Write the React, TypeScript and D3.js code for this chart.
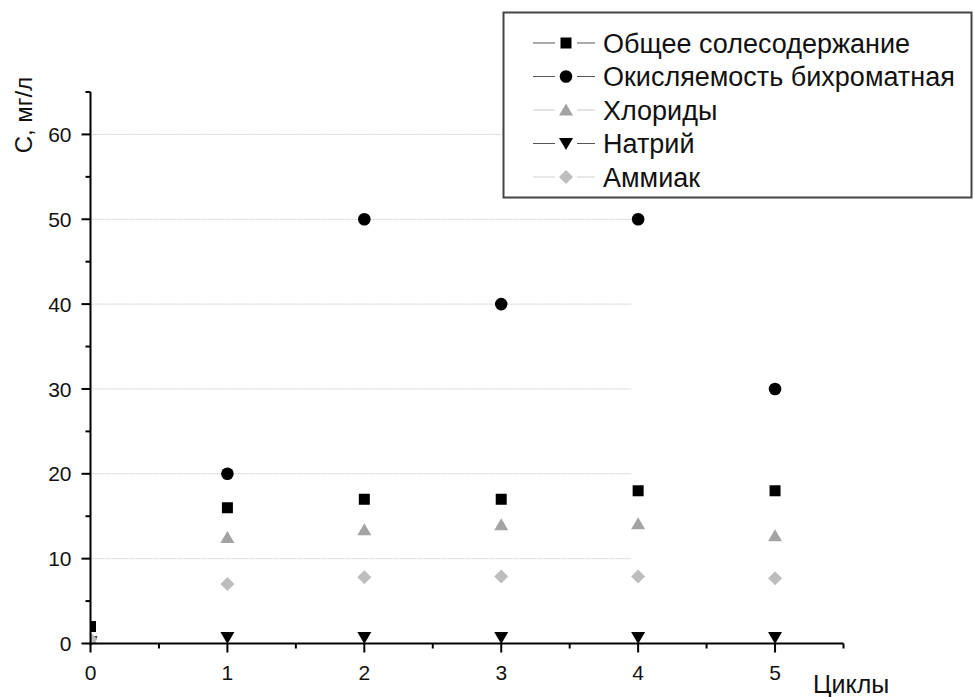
import React from "react";
import * as d3 from "d3";

const cycles = [0, 1, 2, 3, 4, 5];
const salinity = [2.0, 16, 17, 17, 18, 18];
const oxidability = [null, 20, 50, 40, 50, 30];
const chlorides = [0.5, 12.5, 13.4, 14, 14.1, 12.7];
const sodium = [0.2, 0.7, 0.7, 0.7, 0.7, 0.7];
const ammonia = [0.5, 7, 7.8, 7.9, 7.9, 7.7];

const seriesNames = [
  "Общее солесодержание",
  "Окисляемость бихроматная",
  "Хлориды",
  "Натрий",
  "Аммиак",
];
const yTicks = [0, 10, 20, 30, 40, 50, 60];
const xTicks = [0, 1, 2, 3, 4, 5];
const yTitle = "С, мг/л";
const xTitle = "Циклы";

const W = 974;
const H = 697;
const FONT = "'Liberation Sans', Arial, sans-serif";

type Shape = "square" | "circle" | "triangle" | "down" | "diamond";

const series: { name: string; values: (number | null)[]; shape: Shape; fill: string; line: string }[] = [
  { name: seriesNames[0], values: salinity, shape: "square", fill: "#000", line: "#555" },
  { name: seriesNames[1], values: oxidability, shape: "circle", fill: "#000", line: "#555" },
  { name: seriesNames[2], values: chlorides, shape: "triangle", fill: "#a3a3a3", line: "#c8c8c8" },
  { name: seriesNames[3], values: sodium, shape: "down", fill: "#000", line: "#555" },
  { name: seriesNames[4], values: ammonia, shape: "diamond", fill: "#bdbdbd", line: "#d0d0d0" },
];

function Marker({ shape, x, y, fill }: { shape: Shape; x: number; y: number; fill: string }) {
  if (shape === "square") return <rect x={x - 5.5} y={y - 5.5} width={11} height={11} fill={fill} />;
  if (shape === "circle") return <circle cx={x} cy={y} r={6.3} fill={fill} />;
  if (shape === "triangle")
    return <path d={`M${x},${y - 6.5}L${x + 7},${y + 5.5}L${x - 7},${y + 5.5}Z`} fill={fill} />;
  if (shape === "down")
    return <path d={`M${x - 7},${y - 5.5}L${x + 7},${y - 5.5}L${x},${y + 6.5}Z`} fill={fill} />;
  return <path d={`M${x},${y - 7}L${x + 7},${y}L${x},${y + 7}L${x - 7},${y}Z`} fill={fill} />;
}

export default function App() {
  const x = d3.scaleLinear().domain([0, 5.5]).range([90.5, 843.5]);
  const y = d3.scaleLinear().domain([0, 65]).range([643.5, 92]);
  const gridEnd = 3.95;
  const xMinor = d3.range(0.5, 5.51, 1);
  const yMinor = d3.range(5, 65.1, 10);

  return (
    <svg
      width={W}
      height={H}
      style={{ position: "absolute", left: 0, top: 0, background: "#fff" }}
      fontFamily={FONT}
    >
      <defs>
        <clipPath id="plot">
          <rect x={x(0)} y={0} width={W} height={y(0) + 1} />
        </clipPath>
      </defs>
      {yTicks
        .filter((t) => t > 0)
        .map((t) => (
          <line
            key={t}
            x1={x(0)}
            x2={x(gridEnd)}
            y1={y(t)}
            y2={y(t)}
            stroke="#cfcfcf"
            strokeWidth={1}
            strokeDasharray="2,1"
          />
        ))}
      <g clipPath="url(#plot)">
        {series.map((s) =>
          s.values.map((v, i) =>
            v == null ? null : (
              <Marker key={s.name + i} shape={s.shape} x={x(cycles[i])} y={y(v)} fill={s.fill} />
            )
          )
        )}
      </g>
      <line x1={x(0)} x2={x(0)} y1={y(65)} y2={y(0) + 1} stroke="#000" strokeWidth={2} />
      <line x1={x(0) - 1} x2={x(5.5)} y1={y(0)} y2={y(0)} stroke="#000" strokeWidth={2} />
      {yTicks.map((t) => (
        <g key={"yt" + t}>
          <line x1={x(0) - 9} x2={x(0)} y1={y(t)} y2={y(t)} stroke="#000" strokeWidth={2} />
          <text x={x(0) - 19} y={y(t)} dy="0.36em" textAnchor="end" fontSize={21} fill="#111">
            {t}
          </text>
        </g>
      ))}
      {yMinor.map((t) => (
        <line key={"ym" + t} x1={x(0) - 5} x2={x(0)} y1={y(t)} y2={y(t)} stroke="#000" strokeWidth={2} />
      ))}
      {xTicks.map((t) => (
        <g key={"xt" + t}>
          <line x1={x(t)} x2={x(t)} y1={y(0)} y2={y(0) + 9} stroke="#000" strokeWidth={2} />
          <text x={x(t)} y={680} textAnchor="middle" fontSize={21} fill="#111">
            {t}
          </text>
        </g>
      ))}
      {xMinor.map((t) => (
        <line key={"xm" + t} x1={x(t)} x2={x(t)} y1={y(0)} y2={y(0) + 5} stroke="#000" strokeWidth={2} />
      ))}
      <text x={813} y={693} fontSize={25} fill="#111">
        {xTitle}
      </text>
      <text
        transform={`translate(32,115) rotate(-90)`}
        textAnchor="middle"
        fontSize={24}
        fill="#111"
      >
        {yTitle}
      </text>
      <rect x={503.5} y={12.5} width={468} height={185} fill="#fff" stroke="#444" strokeWidth={2} />
      {series.map((s, i) => {
        const cy = 43 + i * 33.5;
        return (
          <g key={"lg" + i}>
            <line x1={533} x2={555} y1={cy} y2={cy} stroke={s.line} strokeWidth={1} />
            <line x1={577} x2={595} y1={cy} y2={cy} stroke={s.line} strokeWidth={1} />
            <Marker shape={s.shape} x={566} y={cy} fill={s.fill} />
            <text x={603} y={cy} dy="0.36em" fontSize={27} fill="#111">
              {s.name}
            </text>
          </g>
        );
      })}
    </svg>
  );
}
